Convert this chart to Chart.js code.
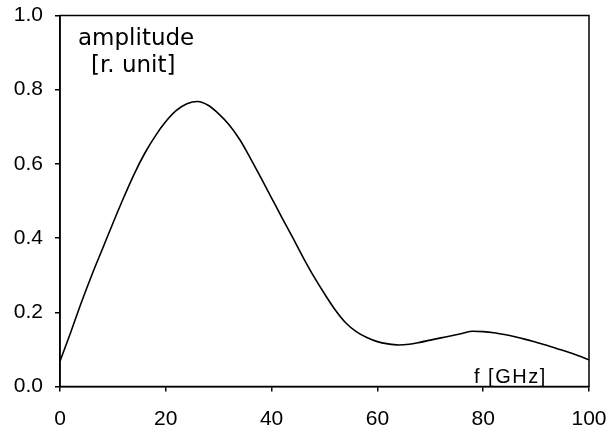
<!DOCTYPE html>
<html>
<head>
<meta charset="utf-8">
<script src="https://cdn.jsdelivr.net/npm/chart.js@4/dist/chart.umd.min.js"></script>
<style>
html,body{margin:0;padding:0;background:#fff;}
#wrap{width:611px;height:428px;}
</style>
</head>
<body>
<div id="wrap"><canvas id="c" width="611" height="428"></canvas></div>
<script>
const frequencies = [0,2,4,6,8,10,12,14,16,18,20,22,24,26,28,30,32,34,36,38,40,42,44,46,48,50,52,54,56,58,60,62,64,66,68,70,72,74,76,78,80,82,84,86,88,90,92,94,96,98,100];
const amplitudes  = [0.068,0.145,0.225,0.300,0.370,0.440,0.508,0.572,0.628,0.675,0.714,0.744,0.762,0.768,0.758,0.735,0.705,0.665,0.615,0.562,0.508,0.454,0.401,0.347,0.296,0.250,0.207,0.172,0.148,0.132,0.121,0.115,0.112,0.114,0.119,0.125,0.131,0.137,0.143,0.149,0.148,0.145,0.140,0.134,0.127,0.119,0.111,0.102,0.093,0.083,0.072];
const xTicks = [0,20,40,60,80,100];
const yTicks = [0.0,0.2,0.4,0.6,0.8,1.0];
const yLabel = ["amplitude","[r. unit]"];
const xLabel = "f [GHz]";

const frame = {
  id:'frame',
  afterDraw(chart){
    const a = chart.chartArea, ctx = chart.ctx;
    ctx.save();
    ctx.strokeStyle = '#000';
    ctx.lineWidth = 1.5;
    ctx.strokeRect(a.left, a.top, a.right - a.left, a.bottom - a.top);
    ctx.fillStyle = '#000';
    ctx.textBaseline = 'alphabetic';
    ctx.textAlign = 'left';
    ctx.font = '23px "DejaVu Sans"';
    ctx.fillText(yLabel[0], 78, 45);
    ctx.fillText(yLabel[1], 91, 72);
    ctx.font = '20px "Liberation Sans"';
    try { ctx.letterSpacing = '1.5px'; } catch(e) {}
    ctx.fillText(xLabel, 474, 383);
    ctx.restore();
  }
};

function zeroPad(s){ s.paddingLeft = 0; s.paddingRight = 0; s.paddingTop = 0; s.paddingBottom = 0; }

new Chart(document.getElementById('c'), {
  type: 'line',
  data: {
    datasets: [{
      data: frequencies.map((f,i)=>({x:f, y:amplitudes[i]})),
      borderColor: '#000',
      borderWidth: 1.6,
      pointRadius: 0,
      fill: false,
      cubicInterpolationMode: 'monotone'
    }]
  },
  options: {
    responsive: false,
    animation: false,
    events: [],
    layout: { padding: { top: 15.5, right: 22, left: 0, bottom: 0 } },
    plugins: { legend: { display: false }, tooltip: { enabled: false } },
    scales: {
      x: {
        type: 'linear', min: 0, max: 100,
        afterBuildTicks: s => { s.ticks = xTicks.map(v => ({value: v})); },
        afterFit: s => { s.height = 41.5; zeroPad(s); },
        grid: { drawOnChartArea: false, drawTicks: true, tickLength: 5, color: '#000', lineWidth: 1.5 },
        border: { display: true, color: '#000', width: 1.5 },
        ticks: { color: '#000', font: { family: '"Liberation Sans"', size: 21 }, padding: 15, maxRotation: 0, callback: v => String(v) }
      },
      y: {
        min: 0, max: 1,
        afterBuildTicks: s => { s.ticks = yTicks.map(v => ({value: v})); },
        afterFit: s => { s.width = 60; zeroPad(s); },
        grid: { drawOnChartArea: false, drawTicks: true, tickLength: 5, color: '#000', lineWidth: 1.5 },
        border: { display: true, color: '#000', width: 1.5 },
        ticks: { color: '#000', font: { family: '"Liberation Sans"', size: 21 }, padding: 12, callback: v => Number(v).toFixed(1) }
      }
    }
  },
  plugins: [frame]
});
</script>
</body>
</html>
